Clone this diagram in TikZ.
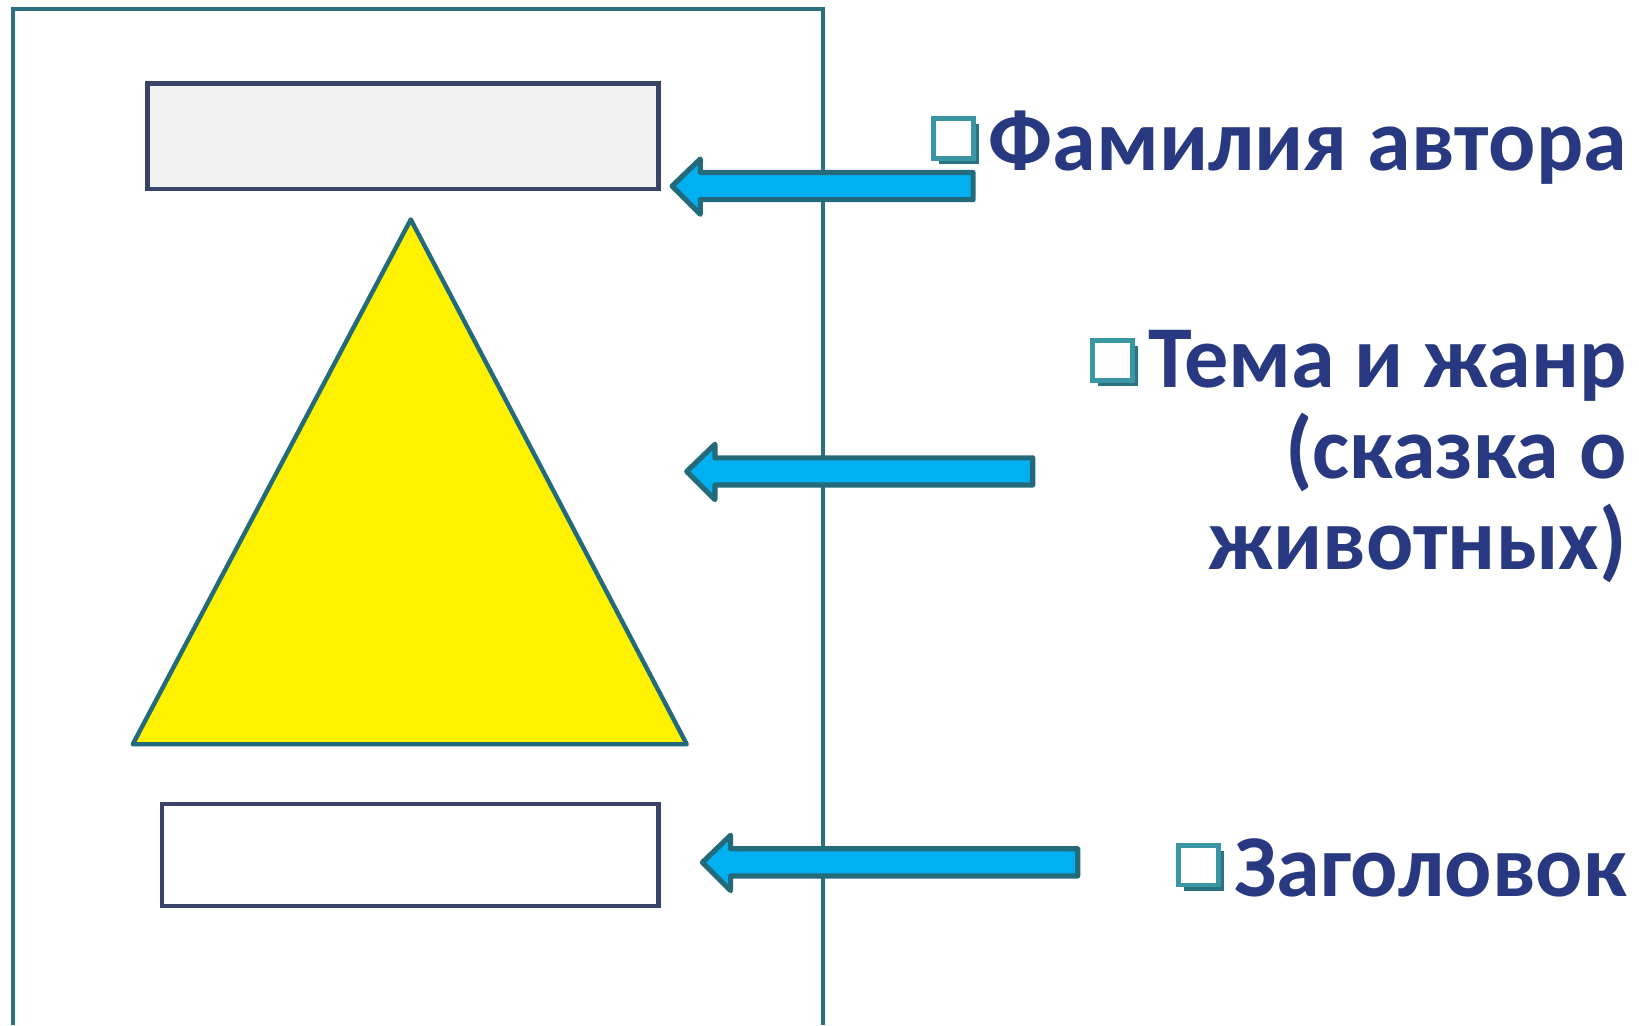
\documentclass[tikz,border=0pt]{standalone}
\usepackage{fontspec}
\newfontfamily\itemfont{Carlito}
\usetikzlibrary{positioning,shadows}

\definecolor{framecol}{HTML}{2E6F7E}
\definecolor{boxcol}{HTML}{3A4468}
\definecolor{arrowfill}{HTML}{00B0F0}
\definecolor{arrowline}{HTML}{236B7B}
\definecolor{itemcol}{HTML}{283881}
\definecolor{bulletcol}{HTML}{3A96A2}
\definecolor{bulletdark}{HTML}{2A7380}

\tikzset{
  pageline/.style={draw=framecol,line width=1.1pt},
  fieldbox/.style={draw=boxcol,line width=1.2pt},
  blockarrow/.style={draw=arrowline,fill=arrowfill,line width=1.4pt,line join=round},
  itemtext/.style={text=itemcol,inner sep=0pt,align=right,
    font=\itemfont\bfseries\fontsize{24}{24.75}\selectfont},
  bulletbox/.style={draw=bulletcol,fill=white,line width=1.3pt,
    minimum size=0.38cm,inner sep=0pt,
    general shadow={fill=bulletdark,shadow xshift=1.5pt,shadow yshift=-1.5pt}}
}

% tip x, tip y, tail x
\newcommand{\blockarr}[3]{%
  \draw[blockarrow] (#1,#2) -- ++(27,-26) -- ++(0,13) -- ({#3},{#2-13})
    -- ({#3},{#2+13}) -- ({#1+27},{#2+13}) -- ++(0,14) -- cycle;}

\begin{document}
\begin{tikzpicture}[x=0.01cm,y=-0.01cm]
  \useasboundingbox (0,0) rectangle (1568,981);

  % sheet
  \draw[pageline] (12,981) -- (12,9) -- (787,9) -- (787,981);

  \draw[fieldbox,fill=black!5] (141,80) rectangle (630,181);
  \draw[draw=arrowline,line width=1.2pt,fill=yellow,line join=round]
    (393,210) -- (657,712) -- (127,712) -- cycle;
  \draw[fieldbox,fill=white] (155,769) rectangle (630,867);

  % arrows
  \blockarr{643}{178}{931}
  \blockarr{657}{451}{988}
  \blockarr{672}{825}{1031}

  % labels
  \node[itemtext,anchor=base east] (avtor) at (1557,163) {Фамилия автора};
  \node[itemtext,anchor=base east] (tema) at (1557,545)
    {Тема и жанр\\(сказка о\\животных)};
  \node[itemtext,anchor=base east] (zag) at (1557,858) {Заголовок};

  \node[bulletbox,above left=0.09cm and 0.12cm of avtor.base west] (b1) {};
  \node[bulletbox,below left=0.08cm and 0.12cm of tema.north west] (b2) {};
  \node[bulletbox,above left=0.09cm and 0.12cm of zag.base west] (b3) {};

\end{tikzpicture}
\end{document}
